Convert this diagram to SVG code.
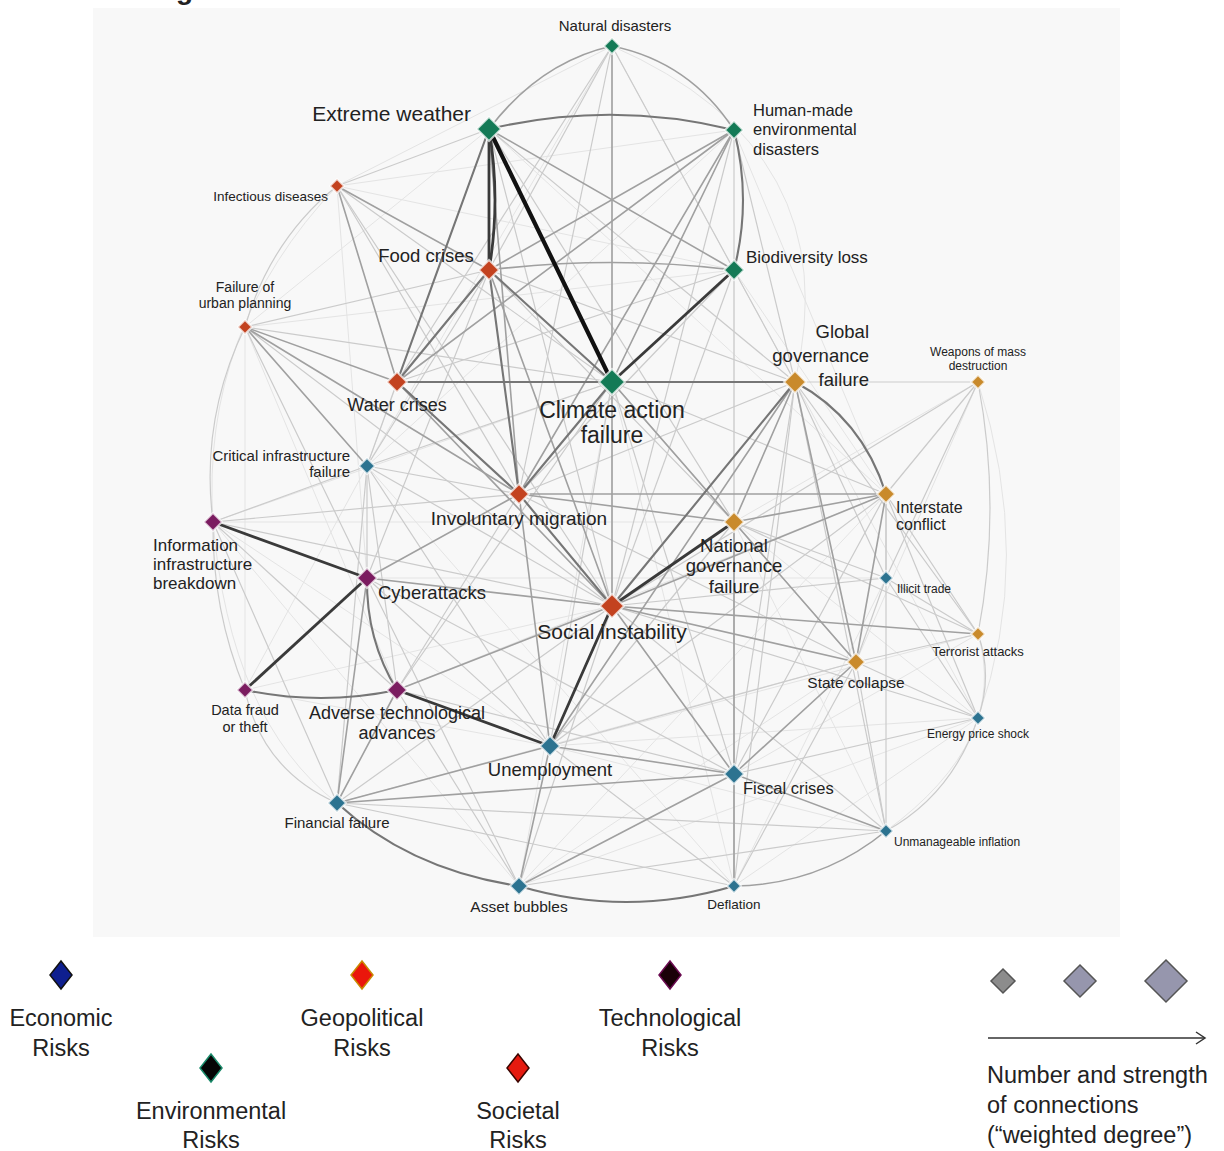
<svg xmlns="http://www.w3.org/2000/svg" width="1224" height="1151" viewBox="0 0 1224 1151">
<style>
.lk{fill:none;stroke-linecap:round}
.e0{stroke:#e4e4e4;stroke-width:1}
.e1{stroke:#cbcbcb;stroke-width:1.2}
.e2{stroke:#a0a0a0;stroke-width:1.6}
.e3{stroke:#767676;stroke-width:2.1}
.e4{stroke:#3a3a3a;stroke-width:2.8}
.e5{stroke:#111;stroke-width:4.2}
.nd{stroke:#ffffff;stroke-opacity:.7;stroke-width:2}
.env{fill:#147a56}
.soc{fill:#c3421f}
.geo{fill:#c98a2b}
.eco{fill:#2c7390}
.tec{fill:#7b1c60}
text{font-family:"Liberation Sans",Arial,Helvetica,sans-serif;fill:#222}
.m{text-anchor:middle}
.r{text-anchor:end}
.lg{font-size:23.5px}
</style>
<rect x="93" y="8" width="1027" height="929" fill="#f8f8f8"/>
<text x="176" y="-1" font-size="28" font-weight="bold">g</text>
<g id="connectors">
<g class="lk e0">
<line x1="337" y1="186" x2="612" y2="46"/>
<line x1="337" y1="186" x2="734" y2="270"/>
<line x1="337" y1="186" x2="734" y2="130"/>
<line x1="245" y1="327" x2="489" y2="129"/>
<path d="M612,46 Q850,150 795,382"/>
<path d="M337,186 Q200,330 213,522"/>
<path d="M213,522 Q230,720 337,803"/>
<line x1="978" y1="718" x2="795" y2="382"/>
<line x1="978" y1="382" x2="734" y2="522"/>
<line x1="245" y1="327" x2="245" y2="690"/>
<line x1="213" y1="522" x2="519" y2="886"/>
<line x1="367" y1="466" x2="734" y2="886"/>
<path d="M886,831 Q1010,740 978,634"/>
<path d="M978,382 Q1035,560 978,718"/>
<line x1="734" y1="886" x2="978" y2="718"/>
<line x1="245" y1="327" x2="397" y2="690"/>
<line x1="337" y1="186" x2="367" y2="578"/>
<line x1="367" y1="466" x2="245" y2="690"/>
<line x1="213" y1="522" x2="550" y2="746"/>
<line x1="245" y1="690" x2="550" y2="746"/>
<line x1="734" y1="130" x2="886" y2="494"/>
<line x1="734" y1="270" x2="886" y2="494"/>
<line x1="734" y1="270" x2="734" y2="522"/>
<line x1="612" y1="46" x2="612" y2="606"/>
<line x1="978" y1="382" x2="856" y2="662"/>
<line x1="886" y1="578" x2="734" y2="886"/>
<line x1="856" y1="662" x2="519" y2="886"/>
<line x1="978" y1="634" x2="734" y2="774"/>
<line x1="978" y1="634" x2="550" y2="746"/>
<line x1="978" y1="718" x2="550" y2="746"/>
<line x1="978" y1="718" x2="734" y2="522"/>
<line x1="886" y1="831" x2="734" y2="522"/>
<line x1="886" y1="831" x2="550" y2="746"/>
<line x1="886" y1="494" x2="519" y2="886"/>
<line x1="612" y1="382" x2="734" y2="886"/>
<line x1="612" y1="382" x2="519" y2="886"/>
<line x1="245" y1="327" x2="734" y2="270"/>
<line x1="213" y1="522" x2="612" y2="382"/>
<line x1="213" y1="522" x2="734" y2="522"/>
<line x1="245" y1="690" x2="612" y2="606"/>
<line x1="337" y1="803" x2="856" y2="662"/>
<line x1="519" y1="886" x2="978" y2="718"/>
<line x1="367" y1="578" x2="886" y2="578"/>
<line x1="397" y1="690" x2="886" y2="494"/>
<line x1="489" y1="129" x2="886" y2="494"/>
<line x1="612" y1="46" x2="367" y2="466"/>
<line x1="734" y1="130" x2="367" y2="466"/>
<line x1="489" y1="129" x2="367" y2="466"/>
<line x1="612" y1="46" x2="795" y2="382"/>
</g>
<g class="lk e1">
<line x1="337" y1="186" x2="489" y2="129"/>
<line x1="337" y1="186" x2="612" y2="382"/>
<line x1="337" y1="186" x2="519" y2="494"/>
<line x1="337" y1="186" x2="612" y2="606"/>
<path d="M337,186 Q270,240 245,327"/>
<line x1="245" y1="327" x2="612" y2="382"/>
<line x1="245" y1="327" x2="489" y2="270"/>
<line x1="245" y1="327" x2="612" y2="606"/>
<path d="M245,327 Q200,420 213,522"/>
<line x1="245" y1="327" x2="367" y2="578"/>
<line x1="397" y1="382" x2="367" y2="466"/>
<line x1="397" y1="382" x2="734" y2="270"/>
<line x1="367" y1="466" x2="213" y2="522"/>
<line x1="367" y1="466" x2="367" y2="578"/>
<line x1="367" y1="466" x2="519" y2="494"/>
<line x1="367" y1="466" x2="397" y2="690"/>
<line x1="367" y1="466" x2="337" y2="803"/>
<line x1="367" y1="466" x2="612" y2="606"/>
<line x1="367" y1="466" x2="550" y2="746"/>
<line x1="367" y1="466" x2="612" y2="382"/>
<line x1="367" y1="466" x2="489" y2="270"/>
<line x1="213" y1="522" x2="397" y2="690"/>
<line x1="213" y1="522" x2="519" y2="494"/>
<line x1="213" y1="522" x2="612" y2="606"/>
<line x1="213" y1="522" x2="337" y2="803"/>
<path d="M213,522 Q212,610 245,690"/>
<line x1="367" y1="578" x2="550" y2="746"/>
<line x1="367" y1="578" x2="519" y2="886"/>
<line x1="367" y1="578" x2="734" y2="774"/>
<path d="M245,690 Q262,770 337,803"/>
<line x1="397" y1="690" x2="519" y2="494"/>
<line x1="397" y1="690" x2="734" y2="774"/>
<line x1="397" y1="690" x2="519" y2="886"/>
<line x1="397" y1="690" x2="612" y2="382"/>
<line x1="734" y1="130" x2="795" y2="382"/>
<line x1="734" y1="130" x2="612" y2="606"/>
<line x1="734" y1="130" x2="734" y2="522"/>
<line x1="734" y1="270" x2="795" y2="382"/>
<line x1="734" y1="270" x2="519" y2="494"/>
<line x1="734" y1="270" x2="612" y2="606"/>
<line x1="612" y1="46" x2="734" y2="270"/>
<line x1="612" y1="46" x2="489" y2="270"/>
<line x1="612" y1="46" x2="397" y2="382"/>
<line x1="612" y1="46" x2="519" y2="494"/>
<line x1="489" y1="129" x2="795" y2="382"/>
<line x1="489" y1="129" x2="612" y2="606"/>
<line x1="489" y1="129" x2="734" y2="522"/>
<line x1="489" y1="270" x2="795" y2="382"/>
<line x1="489" y1="270" x2="367" y2="578"/>
<line x1="489" y1="270" x2="734" y2="522"/>
<line x1="612" y1="382" x2="886" y2="494"/>
<line x1="612" y1="382" x2="856" y2="662"/>
<line x1="612" y1="382" x2="550" y2="746"/>
<line x1="612" y1="382" x2="734" y2="774"/>
<line x1="795" y1="382" x2="519" y2="494"/>
<line x1="795" y1="382" x2="978" y2="382"/>
<line x1="795" y1="382" x2="886" y2="578"/>
<line x1="795" y1="382" x2="978" y2="634"/>
<line x1="795" y1="382" x2="734" y2="774"/>
<line x1="795" y1="382" x2="886" y2="831"/>
<line x1="795" y1="382" x2="734" y2="886"/>
<line x1="734" y1="522" x2="550" y2="746"/>
<line x1="734" y1="522" x2="978" y2="634"/>
<line x1="734" y1="522" x2="734" y2="886"/>
<line x1="734" y1="522" x2="886" y2="578"/>
<line x1="886" y1="494" x2="978" y2="634"/>
<line x1="886" y1="494" x2="978" y2="382"/>
<line x1="886" y1="494" x2="886" y2="578"/>
<line x1="886" y1="494" x2="734" y2="774"/>
<line x1="886" y1="494" x2="550" y2="746"/>
<line x1="886" y1="494" x2="978" y2="718"/>
<line x1="886" y1="494" x2="886" y2="831"/>
<line x1="978" y1="382" x2="886" y2="578"/>
<line x1="978" y1="382" x2="612" y2="606"/>
<line x1="978" y1="718" x2="886" y2="578"/>
<line x1="978" y1="718" x2="856" y2="662"/>
<line x1="978" y1="718" x2="734" y2="774"/>
<line x1="978" y1="718" x2="612" y2="606"/>
<line x1="886" y1="831" x2="856" y2="662"/>
<line x1="886" y1="831" x2="612" y2="606"/>
<line x1="978" y1="634" x2="856" y2="662"/>
<line x1="978" y1="634" x2="886" y2="578"/>
<line x1="886" y1="578" x2="856" y2="662"/>
<line x1="886" y1="578" x2="612" y2="606"/>
<line x1="856" y1="662" x2="734" y2="886"/>
<line x1="856" y1="662" x2="550" y2="746"/>
<line x1="856" y1="662" x2="519" y2="494"/>
<line x1="337" y1="803" x2="734" y2="886"/>
<line x1="337" y1="803" x2="612" y2="606"/>
<line x1="337" y1="803" x2="886" y2="831"/>
<line x1="519" y1="886" x2="612" y2="606"/>
<line x1="519" y1="886" x2="886" y2="831"/>
<line x1="734" y1="886" x2="550" y2="746"/>
<path d="M886,831 Q952,795 978,718"/>
<path d="M978,718 Q993,676 978,634"/>
<path d="M978,634 Q1002,508 978,382"/>
</g>
<g class="lk e2">
<line x1="337" y1="186" x2="489" y2="270"/>
<line x1="337" y1="186" x2="397" y2="382"/>
<line x1="245" y1="327" x2="397" y2="382"/>
<line x1="245" y1="327" x2="519" y2="494"/>
<line x1="245" y1="327" x2="367" y2="466"/>
<line x1="397" y1="382" x2="612" y2="606"/>
<line x1="734" y1="130" x2="612" y2="382"/>
<line x1="734" y1="130" x2="489" y2="270"/>
<line x1="734" y1="130" x2="397" y2="382"/>
<line x1="734" y1="130" x2="519" y2="494"/>
<path d="M489,270 Q612,255 734,270"/>
<line x1="489" y1="129" x2="734" y2="270"/>
<line x1="489" y1="129" x2="519" y2="494"/>
<line x1="489" y1="270" x2="612" y2="606"/>
<path d="M612,46 Q540,62 489,129"/>
<path d="M612,46 Q690,62 734,130"/>
<line x1="612" y1="46" x2="612" y2="382"/>
<line x1="612" y1="382" x2="734" y2="522"/>
<line x1="612" y1="382" x2="612" y2="606"/>
<line x1="519" y1="494" x2="734" y2="522"/>
<line x1="519" y1="494" x2="886" y2="494"/>
<line x1="795" y1="382" x2="734" y2="522"/>
<line x1="795" y1="382" x2="856" y2="662"/>
<line x1="795" y1="382" x2="550" y2="746"/>
<line x1="734" y1="522" x2="856" y2="662"/>
<line x1="734" y1="522" x2="886" y2="494"/>
<line x1="734" y1="522" x2="734" y2="774"/>
<line x1="886" y1="494" x2="856" y2="662"/>
<line x1="612" y1="606" x2="886" y2="494"/>
<line x1="612" y1="606" x2="856" y2="662"/>
<line x1="612" y1="606" x2="978" y2="634"/>
<line x1="612" y1="606" x2="734" y2="774"/>
<line x1="612" y1="606" x2="367" y2="578"/>
<line x1="612" y1="606" x2="397" y2="690"/>
<line x1="550" y1="746" x2="734" y2="774"/>
<line x1="550" y1="746" x2="337" y2="803"/>
<line x1="550" y1="746" x2="519" y2="886"/>
<line x1="550" y1="746" x2="519" y2="494"/>
<line x1="734" y1="774" x2="337" y2="803"/>
<line x1="734" y1="774" x2="519" y2="886"/>
<line x1="734" y1="774" x2="734" y2="886"/>
<line x1="734" y1="774" x2="886" y2="831"/>
<line x1="734" y1="774" x2="856" y2="662"/>
<line x1="337" y1="803" x2="397" y2="690"/>
<line x1="337" y1="803" x2="367" y2="578"/>
<line x1="367" y1="578" x2="519" y2="494"/>
<path d="M734,886 Q820,885 886,831"/>
</g>
<g class="lk e3">
<line x1="489" y1="270" x2="612" y2="382"/>
<line x1="489" y1="270" x2="397" y2="382"/>
<line x1="397" y1="382" x2="612" y2="382"/>
<line x1="612" y1="382" x2="795" y2="382"/>
<line x1="489" y1="129" x2="397" y2="382"/>
<path d="M489,129 Q612,100 734,130"/>
<path d="M734,130 Q752,200 734,270"/>
<line x1="397" y1="382" x2="519" y2="494"/>
<line x1="519" y1="494" x2="612" y2="382"/>
<line x1="519" y1="494" x2="612" y2="606"/>
<line x1="489" y1="270" x2="519" y2="494"/>
<line x1="795" y1="382" x2="612" y2="606"/>
<path d="M795,382 Q862,418 886,494"/>
<path d="M367,578 Q366,640 397,690"/>
<path d="M245,690 Q321,706 397,690"/>
<path d="M337,803 Q410,870 519,886"/>
<path d="M519,886 Q626,918 734,886"/>
</g>
<g class="lk e4">
<line x1="489" y1="129" x2="489" y2="270"/>
<path d="M489,129 Q501,200 489,270"/>
<line x1="734" y1="270" x2="612" y2="382"/>
<line x1="367" y1="578" x2="245" y2="690"/>
<line x1="612" y1="606" x2="734" y2="522"/>
<line x1="612" y1="606" x2="550" y2="746"/>
<line x1="397" y1="690" x2="550" y2="746"/>
<line x1="213" y1="522" x2="367" y2="578"/>
</g>
<g class="lk e5">
<line x1="489" y1="129" x2="612" y2="382"/>
</g>
</g>
<g id="n-natural-disasters"><path class="nd env" d="M612,38 l8,8 l-8,8 l-8,-8 z"/><text class="m" x="615" y="31" font-size="15">Natural disasters</text></g>
<g id="n-extreme-weather"><path class="nd env" d="M489,117 l12,12 l-12,12 l-12,-12 z"/><text class="r" x="471" y="121" font-size="21">Extreme weather</text></g>
<g id="n-human-made"><path class="nd env" d="M734,121 l9,9 l-9,9 l-9,-9 z"/><text x="753" y="116" font-size="16.5">Human-made</text><text x="753" y="135" font-size="16.5">environmental</text><text x="753" y="155" font-size="16.5">disasters</text></g>
<g id="n-infectious-diseases"><path class="nd soc" d="M337,179 l7,7 l-7,7 l-7,-7 z"/><text class="r" x="328" y="201" font-size="13.5">Infectious diseases</text></g>
<g id="n-food-crises"><path class="nd soc" d="M489,260 l10,10 l-10,10 l-10,-10 z"/><text class="m" x="426" y="262" font-size="18.5">Food crises</text></g>
<g id="n-biodiversity-loss"><path class="nd env" d="M734,260 l10,10 l-10,10 l-10,-10 z"/><text x="746" y="263" font-size="17">Biodiversity loss</text></g>
<g id="n-urban-planning"><path class="nd soc" d="M245,320 l7,7 l-7,7 l-7,-7 z"/><text class="m" x="245" y="292" font-size="14">Failure of</text><text class="m" x="245" y="308" font-size="14">urban planning</text></g>
<g id="n-water-crises"><path class="nd soc" d="M397,372 l10,10 l-10,10 l-10,-10 z"/><text class="m" x="397" y="411" font-size="18">Water crises</text></g>
<g id="n-climate-action"><path class="nd env" d="M612,369 l13,13 l-13,13 l-13,-13 z"/><text class="m" x="612" y="418" font-size="23">Climate action</text><text class="m" x="612" y="443" font-size="23">failure</text></g>
<g id="n-global-governance"><path class="nd geo" d="M795,371 l11,11 l-11,11 l-11,-11 z"/><text class="r" x="869" y="338" font-size="18.5">Global</text><text class="r" x="869" y="362" font-size="18.5">governance</text><text class="r" x="869" y="386" font-size="18.5">failure</text></g>
<g id="n-weapons"><path class="nd geo" d="M978,375 l7,7 l-7,7 l-7,-7 z"/><text class="m" x="978" y="356" font-size="12">Weapons of mass</text><text class="m" x="978" y="370" font-size="12">destruction</text></g>
<g id="n-critical-infrastructure"><path class="nd eco" d="M367,458 l8,8 l-8,8 l-8,-8 z"/><text class="r" x="350" y="461" font-size="15">Critical infrastructure</text><text class="r" x="350" y="477" font-size="15">failure</text></g>
<g id="n-involuntary-migration"><path class="nd soc" d="M519,484 l10,10 l-10,10 l-10,-10 z"/><text class="m" x="519" y="525" font-size="19">Involuntary migration</text></g>
<g id="n-national-governance"><path class="nd geo" d="M734,512 l10,10 l-10,10 l-10,-10 z"/><text class="m" x="734" y="552" font-size="18.5">National</text><text class="m" x="734" y="572" font-size="18.5">governance</text><text class="m" x="734" y="593" font-size="18.5">failure</text></g>
<g id="n-interstate-conflict"><path class="nd geo" d="M886,485 l9,9 l-9,9 l-9,-9 z"/><text x="896" y="513" font-size="16">Interstate</text><text x="896" y="530" font-size="16">conflict</text></g>
<g id="n-information-infrastructure"><path class="nd tec" d="M213,513 l9,9 l-9,9 l-9,-9 z"/><text x="153" y="551" font-size="17">Information</text><text x="153" y="570" font-size="17">infrastructure</text><text x="153" y="589" font-size="17">breakdown</text></g>
<g id="n-cyberattacks"><path class="nd tec" d="M367,568 l10,10 l-10,10 l-10,-10 z"/><text x="378" y="599" font-size="18.5">Cyberattacks</text></g>
<g id="n-illicit-trade"><path class="nd eco" d="M886,571 l7,7 l-7,7 l-7,-7 z"/><text x="897" y="593" font-size="12">Illicit trade</text></g>
<g id="n-social-instability"><path class="nd soc" d="M612,594 l12,12 l-12,12 l-12,-12 z"/><text class="m" x="612" y="639" font-size="21">Social instability</text></g>
<g id="n-terrorist-attacks"><path class="nd geo" d="M978,627 l7,7 l-7,7 l-7,-7 z"/><text class="m" x="978" y="656" font-size="13">Terrorist attacks</text></g>
<g id="n-state-collapse"><path class="nd geo" d="M856,653 l9,9 l-9,9 l-9,-9 z"/><text class="m" x="856" y="688" font-size="15.5">State collapse</text></g>
<g id="n-data-fraud"><path class="nd tec" d="M245,682 l8,8 l-8,8 l-8,-8 z"/><text class="m" x="245" y="715" font-size="14.5">Data fraud</text><text class="m" x="245" y="732" font-size="14.5">or theft</text></g>
<g id="n-adverse-tech"><path class="nd tec" d="M397,680 l10,10 l-10,10 l-10,-10 z"/><text class="m" x="397" y="719" font-size="18">Adverse technological</text><text class="m" x="397" y="739" font-size="18">advances</text></g>
<g id="n-energy-price"><path class="nd eco" d="M978,711 l7,7 l-7,7 l-7,-7 z"/><text class="m" x="978" y="738" font-size="12">Energy price shock</text></g>
<g id="n-unemployment"><path class="nd eco" d="M550,736 l10,10 l-10,10 l-10,-10 z"/><text class="m" x="550" y="776" font-size="18.5">Unemployment</text></g>
<g id="n-fiscal-crises"><path class="nd eco" d="M734,764 l10,10 l-10,10 l-10,-10 z"/><text x="743" y="794" font-size="16.5">Fiscal crises</text></g>
<g id="n-financial-failure"><path class="nd eco" d="M337,794 l9,9 l-9,9 l-9,-9 z"/><text class="m" x="337" y="828" font-size="15">Financial failure</text></g>
<g id="n-unmanageable-inflation"><path class="nd eco" d="M886,824 l7,7 l-7,7 l-7,-7 z"/><text x="894" y="846" font-size="12">Unmanageable inflation</text></g>
<g id="n-asset-bubbles"><path class="nd eco" d="M519,877 l9,9 l-9,9 l-9,-9 z"/><text class="m" x="519" y="912" font-size="15.5">Asset bubbles</text></g>
<g id="n-deflation"><path class="nd eco" d="M734,879 l7,7 l-7,7 l-7,-7 z"/><text class="m" x="734" y="909" font-size="13.5">Deflation</text></g>
<g id="legend">
<path d="M61,961 l11,14 l-11,14 l-11,-14 z" fill="#0e1f8f" stroke="#111" stroke-width="1.5"/>
<text class="m lg" x="61" y="1026">Economic</text><text class="m lg" x="61" y="1056">Risks</text>
<path d="M362,961 l11,14 l-11,14 l-11,-14 z" fill="#ea160b" stroke="#c98a00" stroke-width="1.5"/>
<text class="m lg" x="362" y="1026">Geopolitical</text><text class="m lg" x="362" y="1056">Risks</text>
<path d="M670,961 l11,14 l-11,14 l-11,-14 z" fill="#1a0008" stroke="#6a0a50" stroke-width="1.5"/>
<text class="m lg" x="670" y="1026">Technological</text><text class="m lg" x="670" y="1056">Risks</text>
<path d="M211,1054 l11,14 l-11,14 l-11,-14 z" fill="#050505" stroke="#1a8a6a" stroke-width="1.5"/>
<text class="m lg" x="211" y="1119">Environmental</text><text class="m lg" x="211" y="1148">Risks</text>
<path d="M518,1054 l11,14 l-11,14 l-11,-14 z" fill="#e51a0f" stroke="#3a0500" stroke-width="1.5"/>
<text class="m lg" x="518" y="1119">Societal</text><text class="m lg" x="518" y="1148">Risks</text>
<path d="M1003,969 l12,12 l-12,12 l-12,-12 z" fill="#8c8c8c" stroke="#555" stroke-width="1.5"/>
<path d="M1080,965 l16,16 l-16,16 l-16,-16 z" fill="#9696ad" stroke="#555" stroke-width="1.5"/>
<path d="M1166,960 l21,21 l-21,21 l-21,-21 z" fill="#9696ad" stroke="#555" stroke-width="1.5"/>
<line x1="988" y1="1038" x2="1204" y2="1038" stroke="#333" stroke-width="1.5"/>
<path d="M1196,1032 L1205,1038 L1196,1044" fill="none" stroke="#333" stroke-width="1.5"/>
<text class="lg" x="987" y="1083">Number and strength</text>
<text class="lg" x="987" y="1113">of connections</text>
<text class="lg" x="987" y="1143">(“weighted degree”)</text>
</g>
</svg>
